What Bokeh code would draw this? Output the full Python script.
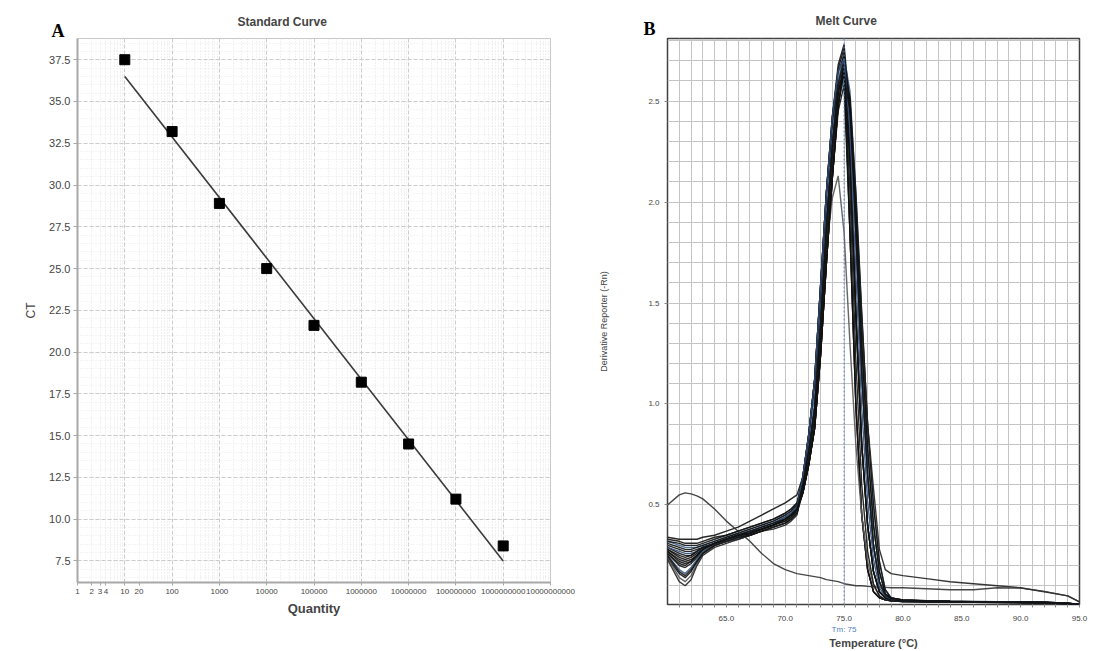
from bokeh.plotting import figure
from bokeh.layouts import row
from bokeh.models import (FixedTicker, SingleIntervalTicker, Span, LinearAxis,
                          PrintfTickFormatter, Range1d)
from bokeh.core.properties import value
from bokeh.embed import file_html
from bokeh.resources import INLINE

# ---------------- Panel A: standard curve ----------------
quantity = [10, 100, 1000, 10000, 100000, 1000000, 10000000, 100000000, 1000000000]
ct_values = [37.5, 33.2, 28.9, 25.0, 21.6, 18.2, 14.5, 11.2, 8.4]
fit_quantity = [10, 1000000000]
fit_ct = [36.5, 7.5]

x_tick_values = [1, 2, 3, 4, 10, 20, 100, 1000, 10000, 100000, 1000000,
                 10000000, 100000000, 1000000000, 10000000000]
x_tick_labels = ["1", "2", "3", "4", "10", "20", "100", "1000", "10000", "100000",
                 "1000000", "10000000", "100000000", "1000000000", "10000000000"]
x_decades = [1, 10, 100, 1000, 10000, 100000, 1000000, 10000000, 100000000,
             1000000000, 10000000000]
y_tick_values = [7.5, 10.0, 12.5, 15.0, 17.5, 20.0, 22.5, 25.0, 27.5, 30.0, 32.5, 35.0, 37.5]

# ---------------- Panel B: melt curves ----------------
temperature = [60, 61, 61.5, 62, 62.5, 63, 64, 65, 66, 67, 68, 69, 70, 70.5, 71,
               71.5, 72, 72.5, 73, 73.5, 74, 74.5, 75, 75.5, 76, 76.5, 77, 77.5, 78, 78.5, 79,
               80, 82, 84, 86, 88, 90, 92, 94, 95]

melt_01 = [0.34, 0.33, 0.33, 0.33, 0.33, 0.34, 0.35, 0.37, 0.39, 0.42, 0.45, 0.48, 0.51, 0.53, 0.55,
           0.64, 0.85, 1.12, 1.58, 2.05, 2.42, 2.68, 2.78, 2.45, 1.85, 1.15, 0.65, 0.30, 0.12, 0.05, 0.035,
           0.03, 0.025, 0.022, 0.02, 0.02, 0.02, 0.018, 0.014, 0.008]
melt_02 = [0.33, 0.32, 0.31, 0.31, 0.31, 0.32, 0.34, 0.35, 0.37, 0.39, 0.41, 0.43, 0.46, 0.48, 0.51,
           0.60, 0.77, 0.98, 1.40, 1.88, 2.28, 2.58, 2.74, 2.25, 1.45, 0.80, 0.40, 0.17, 0.07, 0.04, 0.03,
           0.025, 0.022, 0.02, 0.02, 0.02, 0.018, 0.016, 0.012, 0.006]
melt_03 = [0.32, 0.30, 0.29, 0.29, 0.29, 0.30, 0.32, 0.34, 0.36, 0.38, 0.40, 0.42, 0.45, 0.47, 0.50,
           0.62, 0.81, 1.05, 1.49, 1.96, 2.35, 2.60, 2.72, 2.55, 2.05, 1.45, 0.90, 0.50, 0.22, 0.08, 0.04,
           0.028, 0.025, 0.022, 0.02, 0.02, 0.02, 0.017, 0.013, 0.007]
melt_04 = [0.30, 0.28, 0.27, 0.27, 0.28, 0.29, 0.31, 0.33, 0.35, 0.37, 0.39, 0.41, 0.44, 0.46, 0.49,
           0.60, 0.77, 0.98, 1.40, 1.88, 2.28, 2.58, 2.70, 1.85, 1.00, 0.45, 0.18, 0.07, 0.04, 0.03, 0.025,
           0.022, 0.02, 0.018, 0.018, 0.017, 0.016, 0.015, 0.011, 0.005]
melt_05 = [0.29, 0.26, 0.25, 0.25, 0.27, 0.29, 0.31, 0.33, 0.35, 0.37, 0.38, 0.40, 0.43, 0.45, 0.48,
           0.56, 0.70, 0.88, 1.24, 1.70, 2.12, 2.48, 2.68, 2.45, 1.85, 1.15, 0.65, 0.30, 0.12, 0.05, 0.035,
           0.026, 0.024, 0.022, 0.021, 0.02, 0.019, 0.017, 0.012, 0.006]
melt_06 = [0.28, 0.24, 0.23, 0.24, 0.26, 0.28, 0.31, 0.33, 0.35, 0.36, 0.38, 0.40, 0.43, 0.45, 0.48,
           0.59, 0.76, 0.96, 1.38, 1.85, 2.26, 2.55, 2.66, 1.85, 1.00, 0.45, 0.18, 0.07, 0.04, 0.03, 0.025,
           0.022, 0.02, 0.019, 0.018, 0.018, 0.017, 0.015, 0.011, 0.005]
melt_07 = [0.27, 0.22, 0.21, 0.22, 0.25, 0.28, 0.31, 0.32, 0.34, 0.36, 0.38, 0.40, 0.42, 0.44, 0.47,
           0.56, 0.70, 0.88, 1.24, 1.70, 2.12, 2.48, 2.64, 2.52, 2.05, 1.45, 0.90, 0.50, 0.22, 0.08, 0.04,
           0.028, 0.025, 0.023, 0.022, 0.021, 0.02, 0.018, 0.013, 0.007]
melt_08 = [0.26, 0.20, 0.19, 0.21, 0.24, 0.27, 0.30, 0.32, 0.34, 0.36, 0.38, 0.40, 0.42, 0.44, 0.47,
           0.64, 0.85, 1.12, 1.58, 2.05, 2.40, 2.58, 2.62, 2.20, 1.45, 0.80, 0.40, 0.17, 0.07, 0.04, 0.03,
           0.025, 0.022, 0.02, 0.02, 0.019, 0.018, 0.016, 0.012, 0.006]
melt_09 = [0.25, 0.18, 0.16, 0.19, 0.23, 0.27, 0.30, 0.32, 0.34, 0.35, 0.37, 0.39, 0.41, 0.43, 0.46,
           0.60, 0.77, 0.98, 1.40, 1.88, 2.28, 2.52, 2.60, 2.40, 1.85, 1.15, 0.65, 0.30, 0.12, 0.05, 0.035,
           0.027, 0.024, 0.022, 0.021, 0.02, 0.019, 0.017, 0.012, 0.006]
melt_10 = [0.24, 0.16, 0.14, 0.17, 0.22, 0.26, 0.30, 0.32, 0.33, 0.35, 0.37, 0.39, 0.41, 0.43, 0.46,
           0.56, 0.70, 0.88, 1.24, 1.70, 2.12, 2.45, 2.58, 1.85, 1.00, 0.45, 0.18, 0.07, 0.04, 0.03, 0.025,
           0.022, 0.02, 0.018, 0.018, 0.017, 0.016, 0.014, 0.01, 0.005]
melt_11 = [0.24, 0.14, 0.12, 0.15, 0.21, 0.26, 0.30, 0.32, 0.33, 0.35, 0.37, 0.39, 0.41, 0.43, 0.46,
           0.58, 0.74, 0.94, 1.34, 1.76, 2.02, 2.13, 1.85, 1.30, 0.80, 0.45, 0.22, 0.10, 0.05, 0.03, 0.025,
           0.022, 0.02, 0.019, 0.018, 0.018, 0.017, 0.015, 0.011, 0.005]
melt_12 = [0.23, 0.12, 0.10, 0.13, 0.20, 0.25, 0.29, 0.31, 0.33, 0.35, 0.37, 0.38, 0.40, 0.42, 0.45,
           0.60, 0.77, 0.98, 1.40, 1.88, 2.28, 2.58, 2.70, 2.50, 2.00, 1.42, 0.90, 0.58, 0.28, 0.18, 0.16,
           0.15, 0.135, 0.12, 0.11, 0.10, 0.09, 0.07, 0.05, 0.02]
melt_13 = [0.31, 0.29, 0.28, 0.28, 0.29, 0.30, 0.32, 0.34, 0.36, 0.38, 0.40, 0.42, 0.45, 0.47, 0.50,
           0.64, 0.85, 1.12, 1.58, 2.05, 2.42, 2.66, 2.76, 2.25, 1.45, 0.80, 0.40, 0.17, 0.07, 0.04, 0.03,
           0.024, 0.021, 0.02, 0.019, 0.018, 0.017, 0.015, 0.011, 0.006]
melt_14 = [0.26, 0.21, 0.20, 0.22, 0.25, 0.28, 0.31, 0.33, 0.35, 0.36, 0.38, 0.40, 0.43, 0.45, 0.48,
           0.56, 0.70, 0.88, 1.24, 1.70, 2.12, 2.48, 2.67, 2.45, 1.85, 1.15, 0.65, 0.30, 0.12, 0.05, 0.035,
           0.027, 0.024, 0.022, 0.021, 0.02, 0.019, 0.017, 0.012, 0.006]
melt_15 = [0.50, 0.55, 0.56, 0.555, 0.545, 0.53, 0.48, 0.42, 0.37, 0.32, 0.26, 0.21, 0.18, 0.17, 0.16,
           0.155, 0.15, 0.145, 0.14, 0.13, 0.125, 0.12, 0.11, 0.105, 0.10, 0.10, 0.097, 0.095, 0.093, 0.092, 0.09,
           0.09, 0.085, 0.08, 0.08, 0.09, 0.088, 0.072, 0.05, 0.02]
melt_16 = [0.32, 0.31, 0.30, 0.30, 0.30, 0.31, 0.33, 0.35, 0.37, 0.39, 0.41, 0.43, 0.46, 0.48, 0.51,
           0.64, 0.85, 1.12, 1.58, 2.05, 2.42, 2.64, 2.73, 2.50, 1.95, 1.30, 0.78, 0.40, 0.17, 0.06, 0.04,
           0.03, 0.026, 0.023, 0.021, 0.02, 0.02, 0.018, 0.013, 0.007]
melt_17 = [0.25, 0.17, 0.15, 0.18, 0.22, 0.26, 0.30, 0.32, 0.34, 0.35, 0.37, 0.39, 0.41, 0.43, 0.46,
           0.58, 0.73, 0.93, 1.32, 1.79, 2.20, 2.53, 2.69, 2.05, 1.22, 0.60, 0.27, 0.11, 0.05, 0.03, 0.025,
           0.022, 0.02, 0.019, 0.018, 0.018, 0.017, 0.015, 0.011, 0.005]
melt_18 = [0.29, 0.27, 0.26, 0.26, 0.27, 0.29, 0.31, 0.33, 0.35, 0.37, 0.39, 0.41, 0.44, 0.46, 0.49,
           0.64, 0.85, 1.12, 1.58, 2.05, 2.42, 2.65, 2.71, 2.35, 1.65, 0.98, 0.52, 0.23, 0.09, 0.045, 0.03,
           0.026, 0.023, 0.021, 0.02, 0.02, 0.019, 0.017, 0.012, 0.006]
melt_19 = [0.27, 0.23, 0.22, 0.23, 0.25, 0.28, 0.31, 0.33, 0.35, 0.36, 0.38, 0.40, 0.43, 0.45, 0.48,
           0.56, 0.70, 0.88, 1.24, 1.70, 2.12, 2.48, 2.65, 2.20, 1.45, 0.80, 0.40, 0.17, 0.07, 0.04, 0.03,
           0.025, 0.022, 0.02, 0.02, 0.019, 0.018, 0.016, 0.012, 0.006]
melt_20 = [0.28, 0.25, 0.24, 0.25, 0.27, 0.29, 0.31, 0.33, 0.35, 0.37, 0.39, 0.41, 0.43, 0.45, 0.48,
           0.60, 0.77, 0.98, 1.40, 1.88, 2.28, 2.55, 2.63, 2.45, 1.95, 1.30, 0.78, 0.40, 0.17, 0.06, 0.04,
           0.03, 0.026, 0.023, 0.021, 0.02, 0.02, 0.018, 0.013, 0.007]

melt_curves = [melt_01, melt_02, melt_03, melt_04, melt_05, melt_06, melt_07, melt_08,
               melt_09, melt_10, melt_11, melt_12, melt_13, melt_14, melt_15,
               melt_16, melt_17, melt_18, melt_19, melt_20]
melt_colors = ["#111111", "#111111", "#3d5f8c", "#111111", "#111111", "#111111", "#111111",
               "#111111", "#3d5f8c", "#111111", "#555555", "#222222", "#111111", "#111111", "#333333",
               "#111111", "#111111", "#2f4f7a", "#111111", "#111111"]

temp_ticks = [65, 70, 75, 80, 85, 90, 95]
temp_minor_ticks = [61, 62, 63, 64, 66, 67, 68, 69, 71, 72, 73, 74, 76, 77, 78, 79,
                    81, 82, 83, 84, 86, 87, 88, 89, 91, 92, 93, 94]
deriv_ticks = [0.5, 1.0, 1.5, 2.0, 2.5]
tm_value = 75.0
tm_label = "Tm: 75"

FONT = "Liberation Sans"

# =============== figure A ===============
p1 = figure(width=590, height=629, x_axis_type="log",
            x_range=Range1d(1, 1e10), y_range=Range1d(6.21, 38.77),
            output_backend="svg", toolbar_location=None,
            min_border_left=77, min_border_right=40, min_border_top=38, min_border_bottom=44,
            background_fill_color="white", border_fill_color="white")
p1.title.text = "Standard Curve"
p1.title.align = "left"
p1.title.offset = 160
p1.title.text_font = FONT
p1.title.text_font_size = "12px"
p1.title.text_font_style = "bold"
p1.title.standoff = 20
p1.outline_line_color = "#c8c8c8"

p1.xaxis.ticker = FixedTicker(ticks=x_tick_values, minor_ticks=[])
p1.xaxis.major_label_overrides = {float(v): s for v, s in zip(x_tick_values, x_tick_labels)}
p1.xaxis.axis_label = "Quantity"
p1.xaxis.axis_label_text_font = FONT
p1.xaxis.axis_label_text_font_size = "13px"
p1.xaxis.axis_label_text_font_style = "bold"
p1.xaxis.axis_label_standoff = 4
p1.xaxis.major_label_text_font = FONT
p1.xaxis.major_label_text_font_size = "8px"
p1.xaxis.major_label_text_color = "#444444"
p1.xaxis.major_label_standoff = 3
p1.xaxis.major_tick_out = 3
p1.xaxis.major_tick_in = 0
p1.xaxis.minor_tick_out = 0
p1.xaxis.minor_tick_in = 0

p1.yaxis.ticker = FixedTicker(ticks=y_tick_values)
p1.yaxis.formatter = PrintfTickFormatter(format="%.1f")
p1.yaxis.axis_label = "CT"
p1.yaxis.axis_label_text_font = FONT
p1.yaxis.axis_label_text_font_size = "12px"
p1.yaxis.axis_label_text_font_style = "normal"
p1.yaxis.axis_label_standoff = 8
p1.yaxis.major_label_text_font = FONT
p1.yaxis.major_label_text_font_size = "11px"
p1.yaxis.major_label_text_color = "#444444"
p1.yaxis.major_label_standoff = 3
p1.yaxis.major_tick_out = 4
p1.yaxis.major_tick_in = 0
p1.yaxis.minor_tick_out = 0
p1.yaxis.minor_tick_in = 0

for ax in (p1.xaxis, p1.yaxis):
    ax.axis_line_color = "#a8a8a8"
    ax.axis_line_width = 2
    ax.major_tick_line_color = "#a8a8a8"

sub_decades = [m * d for d in x_decades[:-1] for m in range(2, 10)]
p1.xgrid.ticker = FixedTicker(ticks=x_decades, minor_ticks=sub_decades)
p1.xgrid.grid_line_color = "#cccccc"
p1.xgrid.grid_line_dash = "4 2"
p1.xgrid.minor_grid_line_color = "#e2e2e2"
p1.xgrid.minor_grid_line_dash = "1 2"
y_minor = [y_tick_values[0] - 2.0 + 0.5 * k for k in range(70)]
p1.ygrid.ticker = FixedTicker(ticks=y_tick_values, minor_ticks=y_minor)
p1.ygrid.grid_line_color = "#cccccc"
p1.ygrid.grid_line_dash = "4 2"
p1.ygrid.minor_grid_line_color = "#e8e8e8"
p1.ygrid.minor_grid_line_dash = "1 2"

p1.line(fit_quantity, fit_ct, line_color="#3a3a3a", line_width=1.6)
p1.scatter(quantity, ct_values, marker="square", size=10, fill_color="black", line_color="black")

p1.text(x=[0.387], y=[39.19], text=["A"], text_font=value("Liberation Serif"),
        text_font_style="bold", text_font_size="18px", text_color="black",
        text_align="center", text_baseline="middle", level="overlay")

# =============== figure B ===============
p2 = figure(width=504, height=651,
            x_range=Range1d(60, 95), y_range=Range1d(0.007, 2.81),
            output_backend="svg", toolbar_location=None,
            min_border_left=77, min_border_right=15, min_border_top=38, min_border_bottom=44,
            background_fill_color="white", border_fill_color="white")
p2.title.text = "Melt Curve"
p2.title.align = "left"
p2.title.offset = 148
p2.title.text_font = FONT
p2.title.text_font_size = "12px"
p2.title.text_font_style = "bold"
p2.title.standoff = 22
p2.outline_line_color = "#404040"
p2.outline_line_width = 1.5

p2.xgrid.ticker = SingleIntervalTicker(interval=1)
p2.ygrid.ticker = SingleIntervalTicker(interval=0.1)
p2.grid.grid_line_color = "#c4c4c4"
p2.grid.grid_line_width = 1

p2.xaxis.ticker = FixedTicker(ticks=temp_ticks, minor_ticks=temp_minor_ticks)
p2.xaxis.formatter = PrintfTickFormatter(format="%.1f")
p2.xaxis.major_label_text_font = FONT
p2.xaxis.major_label_text_font_size = "8px"
p2.xaxis.major_label_text_color = "#444444"
p2.xaxis.major_label_standoff = 8
p2.xaxis.major_tick_out = 3
p2.xaxis.minor_tick_out = 3
p2.xaxis.major_tick_in = 0
p2.xaxis.minor_tick_in = 0

tm_axis = LinearAxis(ticker=FixedTicker(ticks=[tm_value], minor_ticks=[]),
                     major_label_overrides={tm_value: tm_label})
tm_axis.axis_label = "Temperature (°C)"
tm_axis.axis_label_text_font = FONT
tm_axis.axis_label_text_font_size = "11px"
tm_axis.axis_label_text_font_style = "bold"
tm_axis.axis_label_standoff = 0
tm_axis.major_label_text_font = FONT
tm_axis.major_label_text_font_size = "8px"
tm_axis.major_label_text_color = "#4f7fbf"
tm_axis.major_label_standoff = 1
tm_axis.major_tick_out = 0
tm_axis.major_tick_in = 0
tm_axis.minor_tick_out = 0
tm_axis.minor_tick_in = 0
tm_axis.axis_line_color = None
tm_axis.major_tick_line_color = None
tm_axis.minor_tick_line_color = None
p2.add_layout(tm_axis, "below")

p2.yaxis.ticker = FixedTicker(ticks=deriv_ticks, minor_ticks=[])
p2.yaxis.formatter = PrintfTickFormatter(format="%.1f")
p2.yaxis.axis_label = "Derivative Reporter (-Rn)"
p2.yaxis.axis_label_text_font = FONT
p2.yaxis.axis_label_text_font_size = "9px"
p2.yaxis.axis_label_text_font_style = "normal"
p2.yaxis.axis_label_standoff = 36
p2.yaxis.major_label_text_font = FONT
p2.yaxis.major_label_text_font_size = "8px"
p2.yaxis.major_label_text_color = "#444444"
p2.yaxis.major_label_standoff = 5
p2.yaxis.major_tick_out = 3
p2.yaxis.major_tick_in = 0

for ax in (p2.xaxis, p2.yaxis):
    ax.axis_line_color = None
    ax.major_tick_line_color = "#888888"
    ax.minor_tick_line_color = "#888888"

for ys, col in zip(melt_curves, melt_colors):
    p2.line(temperature, ys, line_color=col, line_width=1.4, line_alpha=0.9)

p2.add_layout(Span(location=tm_value, dimension="height", line_color="#4f86c6",
                   line_dash="2 2", line_width=1))
p2.text(x=[58.47], y=[2.857], text=["B"], text_font=value("Liberation Serif"),
        text_font_style="bold", text_font_size="18px", text_color="black",
        text_align="center", text_baseline="middle", level="overlay")

layout = row(p1, p2)
open("out.html", "w").write(file_html(layout, INLINE))
